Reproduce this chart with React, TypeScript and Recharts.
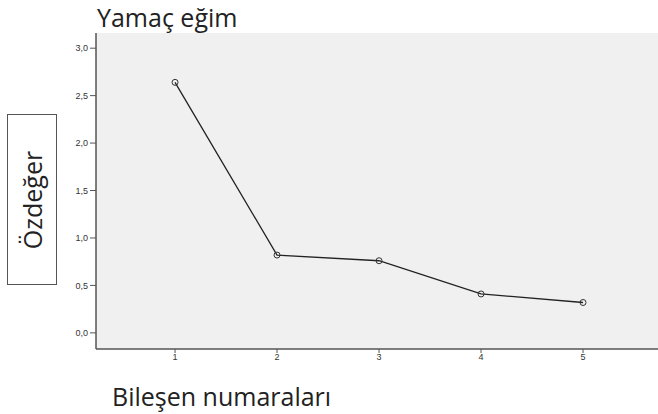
import { LineChart, Line, XAxis, YAxis, CartesianGrid } from "recharts";

const components = [1, 2, 3, 4, 5];
const eigenvalues = [2.64, 0.82, 0.76, 0.41, 0.32];
const yTicks = [0, 0.5, 1, 1.5, 2, 2.5, 3];

const data = components.map((c, i) => ({ component: c, eigen: eigenvalues[i] }));

const fmt = (v: number) => v.toFixed(1).replace(".", ",");

const labelFont = "'Open Sans', 'Noto Sans', sans-serif";

export default function App() {
  return (
    <div
      style={{
        position: "absolute",
        left: 0,
        top: 0,
        width: 658,
        height: 414,
        background: "#fff",
        fontFamily: labelFont,
      }}
    >
      <LineChart
        width={658}
        height={414}
        data={data}
        margin={{ top: 33, right: 0, bottom: 0, left: 0 }}
      >
        <CartesianGrid horizontal={false} vertical={false} fill="#f0f0f0" />
        <XAxis
          dataKey="component"
          type="number"
          domain={[0.225, 5.735]}
          ticks={components}
          allowDataOverflow
          height={65}
          tickSize={4}
          tickMargin={1}
          axisLine={{ stroke: "#555", strokeWidth: 1.5 }}
          tickLine={{ stroke: "#555" }}
          tick={{ fontSize: 9, fill: "#333", fontFamily: "Arial, sans-serif" }}
        />
        <XAxis
          xAxisId="top"
          orientation="top"
          dataKey="component"
          type="number"
          domain={[0.225, 5.735]}
          height={0}
          tick={false}
          tickLine={false}
          axisLine={{ stroke: "#777", strokeWidth: 1 }}
        />
        <YAxis
          type="number"
          domain={[-0.17, 3.16]}
          ticks={yTicks}
          allowDataOverflow
          width={96}
          tickSize={6}
          tickMargin={2}
          tickFormatter={fmt}
          axisLine={{ stroke: "#555", strokeWidth: 1.5 }}
          tickLine={{ stroke: "#555" }}
          tick={{ fontSize: 9, fill: "#333", fontFamily: "Arial, sans-serif" }}
        />
        <Line
          type="linear"
          dataKey="eigen"
          stroke="#222"
          strokeWidth={1.3}
          dot={{ r: 3, fill: "none", stroke: "#333", strokeWidth: 1 }}
          activeDot={false}
          isAnimationActive={false}
        />
      </LineChart>
      <div
        style={{
          position: "absolute",
          left: 97,
          top: 2,
          fontSize: 25,
          color: "#222",
          lineHeight: "30px",
          whiteSpace: "nowrap",
        }}
      >
        Yamaç eğim
      </div>
      <div
        style={{
          position: "absolute",
          left: 7,
          top: 114,
          width: 50,
          height: 171,
          border: "1px solid #555",
          boxSizing: "border-box",
          display: "flex",
          alignItems: "center",
          justifyContent: "center",
        }}
      >
        <div
          style={{
            transform: "rotate(-90deg)",
            fontSize: 25,
            color: "#222",
            whiteSpace: "nowrap",
          }}
        >
          Özdeğer
        </div>
      </div>
      <div
        style={{
          position: "absolute",
          left: 112,
          top: 381,
          fontSize: 25,
          color: "#222",
          lineHeight: "30px",
          whiteSpace: "nowrap",
        }}
      >
        Bileşen numaraları
      </div>
    </div>
  );
}
